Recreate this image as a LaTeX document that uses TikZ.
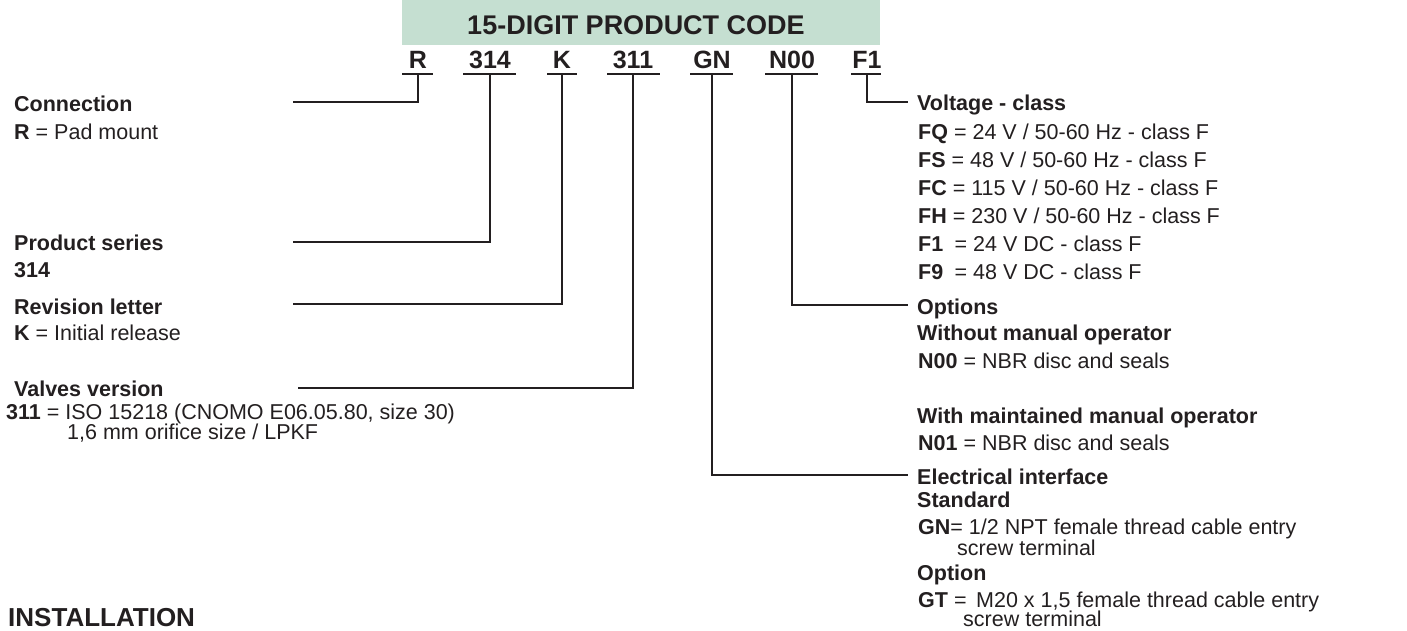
\documentclass[tikz,border=0pt]{standalone}
\usepackage{fontspec}
\setmainfont{Liberation Sans}
\usetikzlibrary{calc}
\definecolor{banner}{HTML}{C5DFD1}
\definecolor{ink}{HTML}{231F20}
\begin{document}
\begin{tikzpicture}[x=1pt,y=-1pt,
  txt/.style={anchor=base west,inner sep=0pt,font=\fontsize{21.5}{26}\selectfont,text=ink},
  hd/.style={anchor=base west,inner sep=0pt,font=\fontsize{21.5}{26}\selectfont\bfseries,text=ink},
  code/.style={anchor=base,inner sep=0pt,font=\fontsize{25}{30}\selectfont\bfseries,text=ink},
  uline/.style={draw=ink,line width=2pt},
  conn/.style={draw=ink,line width=1.5pt}]
\useasboundingbox (0,0) rectangle (1407,630);
% banner
\fill[banner] (402,0) rectangle (880,45);
\node[anchor=base,inner sep=0pt,font=\fontsize{27}{32}\selectfont\bfseries,text=ink] (title) at (636,34) {15-DIGIT PRODUCT CODE};
% code letters
\node[code] (cR) at (418,68) {R};
\node[code] (c314) at (490,68) {314};
\node[code] (cK) at (562,68) {K};
\node[code] (c311) at (633,68) {311};
\node[code] (cGN) at (712,68) {GN};
\node[code] (cN) at (792,68) {N00};
\node[code] (cF) at (867,68) {F1};
% underlines
\draw[uline] (402,73.5) -- (433,73.5);
\draw[uline] (463,73.5) -- (516,73.5);
\draw[uline] (547,73.5) -- (577,73.5);
\draw[uline] (607,73.5) -- (660,73.5);
\draw[uline] (690,73.5) -- (733,73.5);
\draw[uline] (765,73.5) -- (818,73.5);
\draw[uline] (851,73.5) -- (881,73.5);
% connector ends
\coordinate (eR) at (293,102);
\coordinate (e314) at (293,242);
\coordinate (eK) at (293,304);
\coordinate (e311) at (298,388);
\coordinate (eGN) at (908,475);
\coordinate (eN) at (908,305);
\coordinate (eF) at (908,102);
% connectors
\draw[conn] ($(cR.base)+(0,5.5)$) |- (eR);
\draw[conn] ($(c314.base)+(0,5.5)$) |- (e314);
\draw[conn] ($(cK.base)+(0,5.5)$) |- (eK);
\draw[conn] ($(c311.base)+(0,5.5)$) |- (e311);
\draw[conn] ($(cGN.base)+(0,5.5)$) |- (eGN);
\draw[conn] ($(cN.base)+(0,5.5)$) |- (eN);
\draw[conn] ($(cF.base)+(0,5.5)$) |- (eF);
% left texts
\node[hd] (l1) at (14,111) {Connection};
\node[txt] (l2) at (14,139) {\textbf{R} = Pad mount};
\node[hd] (l3) at (14,250) {Product series};
\node[hd] (l4) at (14,277) {314};
\node[hd] (l5) at (14,314) {Revision letter};
\node[txt] (l6) at (14,340) {\textbf{K} = Initial release};
\node[hd] (l7) at (14,396) {Valves version};
\node[txt] (l8) at (6,419) {\textbf{311} = ISO 15218 (CNOMO E06.05.80, size 30)};
\node[txt] (l9) at (67,439) {1,6 mm orifice size / LPKF};
\node[anchor=base west,inner sep=0pt,font=\fontsize{26}{31}\selectfont\bfseries,text=ink] (inst) at (8,626.5) {INSTALLATION};
% right texts
\node[hd] (r1) at (917,110) {Voltage - class};
\node[txt] (r2) at (918,139) {\textbf{FQ} = 24 V / 50-60 Hz - class F};
\node[txt] (r3) at (918,167) {\textbf{FS} = 48 V / 50-60 Hz - class F};
\node[txt] (r4) at (918,195) {\textbf{FC} = 115 V / 50-60 Hz - class F};
\node[txt] (r5) at (918,223) {\textbf{FH} = 230 V / 50-60 Hz - class F};
\node[txt] (r6) at (918,251) {\textbf{F1}\hspace{0.25em} = 24 V DC - class F};
\node[txt] (r7) at (918,279) {\textbf{F9}\hspace{0.25em} = 48 V DC - class F};
\node[hd] (r8) at (917,314) {Options};
\node[hd] (r9) at (917,340) {Without manual operator};
\node[txt] (r10) at (918,368) {\textbf{N00} = NBR disc and seals};
\node[hd] (r11) at (917,423) {With maintained manual operator};
\node[txt] (r12) at (918,450) {\textbf{N01} = NBR disc and seals};
\node[hd] (r13) at (917,484) {Electrical interface};
\node[hd] (r14) at (917,507) {Standard};
\node[txt] (r15) at (918,534) {\textbf{GN}= 1/2 NPT female thread cable entry};
\node[txt] (r16) at (957,555) {screw terminal};
\node[hd] (r17) at (917,580) {Option};
\node[txt] (r18) at (918,607) {\textbf{GT} = \,M20 x 1,5 female thread cable entry};
\node[txt] (r19) at (963,626) {screw terminal};
\end{tikzpicture}
\end{document}
